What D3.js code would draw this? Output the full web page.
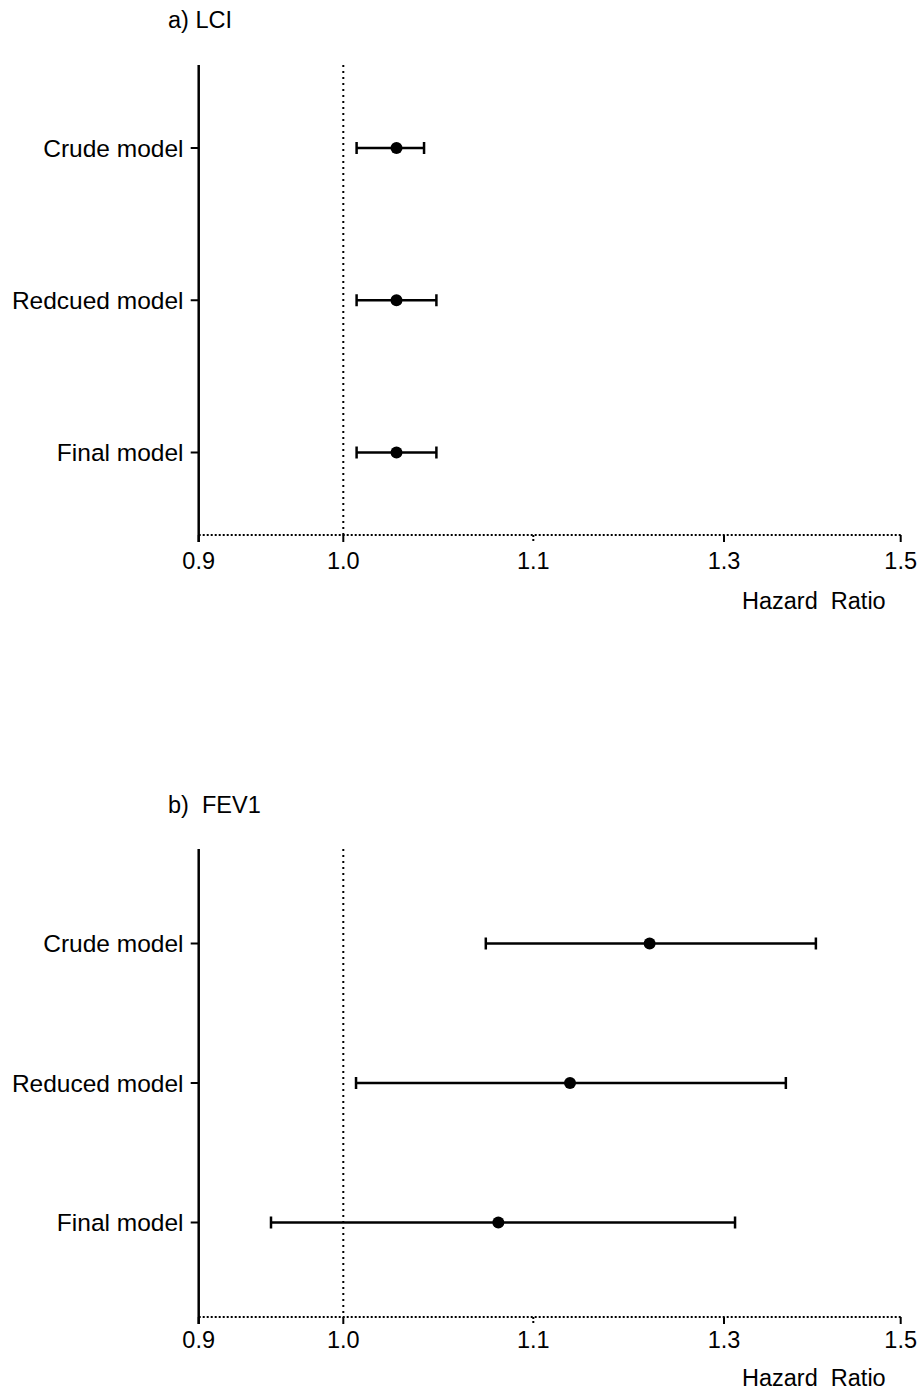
<!DOCTYPE html>
<html>
<head>
<meta charset="utf-8">
<script src="https://cdn.jsdelivr.net/npm/d3@7"></script>
<style>
  html, body { margin: 0; padding: 0; background: #fff; }
  svg { display: block; font-family: "Liberation Sans", Arial, sans-serif; }
  text { white-space: pre; }
</style>
</head>
<body>
<svg id="chart" width="921" height="1392"></svg>
<script>
// ---- Data ----
const tickValues = [0.9, 1.0, 1.1, 1.3, 1.5];
const tickLabels = ["0.9", "1.0", "1.1", "1.3", "1.5"];

const lciTitle = "a) LCI";
const lciCategories = ["Crude model", "Redcued model", "Final model"];
const lciEstimate = [1.028, 1.028, 1.028];
const lciLower = [1.007, 1.007, 1.007];
const lciUpper = [1.0425, 1.049, 1.049];

const fevTitle = "b)\u00A0\u00A0FEV1";
const fevCategories = ["Crude model", "Reduced model", "Final model"];
const fevEstimate = [1.222, 1.1385, 1.0816];
const fevLower = [1.075, 1.0067, 0.950];
const fevUpper = [1.404, 1.370, 1.3125];

const xLabel = "Hazard\u00A0\u00A0Ratio";
const refValue = 1.0;

// ---- Drawing ----
const svg = d3.select("#chart");
// axis break positions (non-uniform scale as in the original)
const x = d3.scaleLinear()
  .domain(tickValues)
  .range([198.7, 343.3, 533.3, 724, 900.7]);

function panel(opts) {
  const g = svg.append("g");
  const y = d3.scalePoint()
    .domain(opts.categories)
    .range([opts.firstRow, opts.lastRow]);

  // title
  g.append("text")
    .attr("x", 168).attr("y", opts.titleY)
    .attr("font-size", 23.5).attr("fill", "#000")
    .text(opts.title);

  // reference dotted line at HR = 1
  g.append("line")
    .attr("x1", x(refValue)).attr("x2", x(refValue))
    .attr("y1", opts.top).attr("y2", opts.axisY)
    .attr("stroke", "#000").attr("stroke-width", 2)
    .attr("stroke-dasharray", "2,4");

  // bottom axis (dotted line)
  g.append("line")
    .attr("x1", x.range()[0]).attr("x2", x.range()[x.range().length - 1] + 1)
    .attr("y1", opts.axisY).attr("y2", opts.axisY)
    .attr("stroke", "#000").attr("stroke-width", 2)
    .attr("stroke-dasharray", "2,2");

  // x ticks
  const xAxis = g.append("g").attr("transform", `translate(0,${opts.axisY})`);
  tickValues.forEach((v, i) => {
    xAxis.append("line")
      .attr("x1", x(v)).attr("x2", x(v))
      .attr("y1", 0).attr("y2", 7)
      .attr("stroke", "#000").attr("stroke-width", 2)
      .attr("stroke-dasharray", v === 1.1 ? "2,2" : null);
    xAxis.append("text")
      .attr("x", x(v)).attr("y", opts.tickLabelDy)
      .attr("text-anchor", "middle")
      .attr("font-size", 23.5).attr("fill", "#000")
      .text(tickLabels[i]);
  });

  // x label
  g.append("text")
    .attr("x", 742).attr("y", opts.xLabelY)
    .attr("font-size", 23.5).attr("fill", "#000")
    .text(xLabel);

  // y axis line
  g.append("line")
    .attr("x1", x.range()[0]).attr("x2", x.range()[0])
    .attr("y1", opts.top).attr("y2", opts.axisY + 7)
    .attr("stroke", "#000").attr("stroke-width", 2.5);

  // y ticks & labels
  opts.categories.forEach(c => {
    g.append("line")
      .attr("x1", x.range()[0] - 8).attr("x2", x.range()[0])
      .attr("y1", y(c)).attr("y2", y(c))
      .attr("stroke", "#000").attr("stroke-width", 2);
    g.append("text")
      .attr("x", 183.5).attr("y", y(c))
      .attr("dy", "0.35em")
      .attr("text-anchor", "end")
      .attr("font-size", 24.5).attr("fill", "#000")
      .text(c);
  });

  // error bars
  opts.categories.forEach((c, i) => {
    const yy = y(c);
    g.append("line")
      .attr("x1", x(opts.lower[i])).attr("x2", x(opts.upper[i]))
      .attr("y1", yy).attr("y2", yy)
      .attr("stroke", "#000").attr("stroke-width", 2.5);
    [opts.lower[i], opts.upper[i]].forEach(v => {
      g.append("line")
        .attr("x1", x(v)).attr("x2", x(v))
        .attr("y1", yy - 6).attr("y2", yy + 6)
        .attr("stroke", "#000").attr("stroke-width", 2.5);
    });
    g.append("circle")
      .attr("cx", x(opts.estimate[i])).attr("cy", yy)
      .attr("r", 6).attr("fill", "#000");
  });
}

panel({
  title: lciTitle, titleY: 27.5,
  categories: lciCategories, estimate: lciEstimate, lower: lciLower, upper: lciUpper,
  top: 65, axisY: 535, firstRow: 148, lastRow: 452.5,
  tickLabelDy: 33.5, xLabelY: 608.5
});

panel({
  title: fevTitle, titleY: 813,
  categories: fevCategories, estimate: fevEstimate, lower: fevLower, upper: fevUpper,
  top: 849, axisY: 1317, firstRow: 943.5, lastRow: 1222.5,
  tickLabelDy: 31, xLabelY: 1385.5
});
</script>
</body>
</html>
